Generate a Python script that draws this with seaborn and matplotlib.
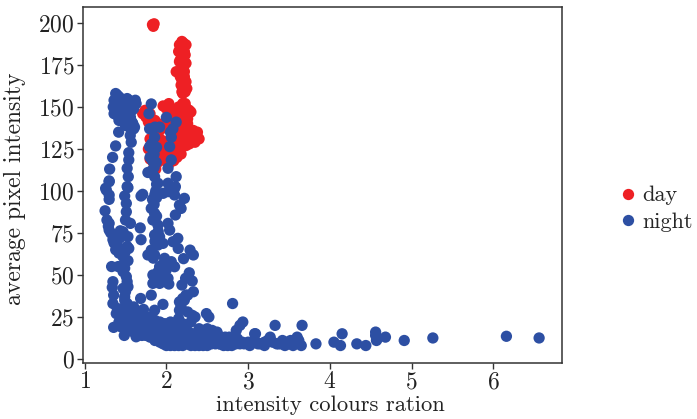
import matplotlib
matplotlib.use("Agg")
import matplotlib.pyplot as plt
import seaborn as sns
import pandas as pd

day_top = [(1.83,199),(1.85,199.5),(1.84,198)]
day_column = [(2.19,189),(2.21,188),(2.2,186),(2.18,184),(2.22,183),(2.19,180),(2.17,178),(2.2,176),
              (2.16,177),(2.12,171),(2.15,171),(2.22,171),(2.17,168),(2.19,166),(2.18,163),(2.2,161),
              (2.19,159),(2.21,160),(2.2,164),(2.22,168),(2.21,172),(2.2,158),(2.16,187),(2.24,187),(2.15,183),
              (2.23,181),(2.24,165),(2.16,171),(2.25,161),(2.23,159),(2.18,169),(2.24,176)]
day_body = [(1.96,150.6),(2.0,149),(2.05,148),(2.1,147),(2.15,150),(2.2,152),(2.25,149),(2.22,146),(2.28,148),
            (2.26,143),(2.18,144),(2.12,143),(2.05,145),(2.0,142),(1.97,140),(2.02,138),(2.08,139),(2.14,140),
            (2.2,141),(2.26,140),(2.3,136),(2.24,136),(2.18,136),(2.32,133),(2.36,134),(2.38,132),(2.34,131),
            (2.32,130),(2.28,133),(2.24,131),(2.2,134),(2.15,132),(2.1,128),(2.2,128),(2.26,129),(2.3,131),
            (2.35,129),(2.16,125),(2.12,123),(2.07,126),(2.24,127),(2.28,128),(2.27,137),(2.25,133),(2.18,122),
            (2.13,120),(2.09,118),(2.23,152),(2.17,148),(2.03,152),(2.3,147),(2.38,135),(2.4,131),(2.33,136)]
day_left = [(1.71,146),(1.75,144),(1.78,141),(1.82,139),(1.86,136),(1.9,133),(1.8,131),(1.85,128),(1.9,126),
            (1.95,130),(1.78,125),(1.82,122),(1.86,120),(1.9,124),(1.94,127),(1.8,119),(1.84,117),(1.88,116),
            (1.93,122),(1.98,124),(1.83,120),(1.87,113),(1.92,118),(1.96,120),(2.02,122),(2.08,128),(1.74,148),
            (1.8,146),(1.86,142),(1.9,140),(1.94,137),(1.99,118),(2.03,116)]

night_cluster = [(1.38,158),(1.4,157),(1.42,156),(1.44,155),(1.46,153),(1.36,154),(1.38,153),(1.4,152),(1.42,152),
                 (1.44,151),(1.46,151),(1.48,150),(1.5,153),(1.52,155),(1.54,154),(1.35,150),(1.37,149),(1.39,149),
                 (1.41,148),(1.43,148),(1.45,148),(1.47,147),(1.49,147),(1.51,147),(1.53,147),(1.55,147),(1.57,152),
                 (1.36,146),(1.38,146),(1.4,145),(1.42,145),(1.44,145),(1.46,144),(1.48,144),(1.5,144),(1.52,144),
                 (1.54,144),(1.56,144),(1.58,148),(1.62,154),(1.63,152),(1.6,149),(1.42,142),(1.45,142),(1.48,142),
                 (1.5,141),(1.52,141),(1.55,141),(1.58,141),(1.5,139),(1.53,139),(1.56,139),(1.59,140),(1.57,136),
                 (1.6,137),(1.61,138)]
night_left = [(1.416,135),(1.379,126.8),(1.342,120),(1.306,113),(1.3,106),(1.257,101.6),(1.3,105.5),(1.265,100.5),
              (1.3,97.6),(1.3,95),(1.25,88.2),(1.273,82.7),(1.3,80.7),(1.3,76.7),(1.346,71),(1.408,66.8),(1.33,55),
              (1.41,55),(1.346,46),(1.338,42.6),(1.355,38),(1.346,33),(1.387,27),(1.355,18.8),(1.485,14),(1.63,13.2),
              (1.29,79),(1.32,75),(1.36,69),(1.38,65),(1.42,63),(1.45,55),(1.47,52)]
night_second = [(1.558,133),(1.57,129),(1.54,122.8),(1.54,118.5),(1.52,113.5),(1.534,108.5),(1.52,102.6),(1.53,102),
                (1.49,97),(1.69,97),(1.71,98),(1.51,92.6),(1.51,87.6),(1.5,82.7),(1.56,80.7),(1.436,76.3),(1.47,75.7),
                (1.53,72.8),(1.43,72),(1.54,65.8),(1.47,60.9),(1.53,58.5),(1.49,54),(1.51,49),(1.53,43),(1.47,42),
                (1.49,37),(1.68,78),(1.69,71),(1.52,67),(1.49,63),(1.52,46),(1.5,40),(1.49,35),(1.52,33),(1.53,30),
                (1.46,30),(1.47,27),(1.49,25),(1.51,24),(1.53,26),(1.48,22),(1.5,20),(1.54,24),(1.44,24)]
night_third = [(1.815,151.8),(1.787,146),(1.795,137),(1.795,126.4),(1.856,132),(1.917,138),(2.0,143.8),(1.86,138),
               (1.88,126),(1.82,128),(1.85,122),(1.8,120),(1.83,118),(1.876,117),(1.774,111),(1.856,108.5),(1.82,112),
               (1.85,114),(1.897,104.6),(1.88,104),(1.87,100),(1.88,96),(1.86,98),(1.815,89.6),(1.856,86.7),(1.85,92),
               (1.83,95),(1.835,82.7),(1.897,79.7),(1.856,73.8),(1.917,72.8),(1.958,68.8),(1.897,67.8),(1.815,64.8),
               (1.774,61.9),(1.856,61.9),(1.978,59.9),(1.917,54.9),(2.06,57.9),(2.1,54.9),(1.998,53),(1.835,50),
               (1.958,49),(2.02,48),(1.835,45),(1.917,45),(2.03,44.6),(1.815,38),(1.685,36),(1.958,32.5),(1.856,29),
               (1.72,29.5),(1.88,48),(1.9,52),(1.95,56),(1.98,46),(1.88,85),(1.9,76),(1.86,70),(1.84,60)]
night_fourth = [(2.12,141),(2.06,132),(2.04,126.4),(2.06,118.5),(2.02,113.5),(2.12,108.5),(2.11,102.6),(2.02,104.6),
                (2.1,101.5),(2.1,97.6),(2.02,99.6),(1.96,98.6),(2.22,95.6),(2.16,91.6),(2.18,89.6),(2.11,85.7),
                (2.02,80.7),(2.04,76.7),(2.14,71.8),(2.08,69.8),(2.145,65.8),(2.29,64.8),(2.33,61.9),(2.21,59.7),
                (2.28,51.3),(2.235,48),(2.316,46.4),(2.19,44),(2.33,40),(2.26,38),(2.2,36),(2.16,34),(2.16,29),
                (2.316,26),(2.49,27),(2.52,25),(2.81,33),(2.935,22),(2.9,20),(2.855,17),(3.09,15),(2.05,135),(2.08,137),
                (2.24,38),(2.22,35),(2.18,31)]
night_band = [(1.45,19),(1.5,18),(1.55,17),(1.6,16),(1.65,15),(1.7,14),(1.75,14),(1.8,13),(1.85,13),(1.9,13),(1.95,12),
              (2.0,12),(2.05,11),(2.1,11),(2.15,11),(2.2,10),(2.25,10),(2.3,10),(2.35,10),(2.4,10),(2.45,10),(2.5,10),
              (2.55,10),(2.6,10),(2.65,9),(2.7,9),(2.75,9),(2.8,9),(2.85,9),(2.9,9),(2.95,9),(1.42,22),(1.46,24),
              (1.52,20),(1.58,22),(1.62,18),(1.68,19),(1.72,17),(1.78,17),(1.83,15),(1.88,16),(1.93,14),(1.98,15),
              (2.03,14),(2.08,13),(2.13,15),(2.18,14),(2.23,13),(2.28,12),(2.33,12),(2.38,12),(2.43,11),(2.48,12),
              (2.53,11),(2.58,11),(2.63,11),(2.68,11),(2.73,11),(2.78,10),(2.83,10),(2.88,10),(2.93,10),(1.4,30),
              (1.44,28),(1.48,26),(1.54,25),(1.6,27),(1.66,23),(1.7,21),(1.76,22),(1.82,20),(1.87,20),(1.92,18),
              (1.97,18),(2.02,17),(2.07,17),(2.12,17),(2.17,17),(2.22,16),(2.27,16),(2.32,15),(2.37,15),(2.42,14),
              (2.47,14),(2.52,15),(2.57,14),(2.62,13),(2.67,13),(2.72,13),(2.77,13),(2.82,12),(2.87,12),(2.0,8),
              (2.05,8),(2.1,8),(2.15,8),(2.2,8),(2.25,9),(2.3,8),(2.35,8),(2.4,8),(2.45,8),(2.5,8),(2.55,9),(2.6,9),
              (2.65,9),(2.7,8),(2.75,8),(2.8,8),(1.86,11),(1.92,10),(1.96,9),(1.6,31),(1.56,28),(1.65,26),(1.72,24),
              (1.78,25),(1.86,23),(1.92,22),(1.98,21),(2.05,22),(2.1,20),(2.15,24),(2.2,21),(2.26,28),(2.3,22),
              (2.35,25),(2.24,19),(2.4,18),(2.46,17),(2.5,18),(2.56,17),(2.62,16)]
night_tail = [(3.0,10),(3.05,10),(3.1,10),(3.15,9),(3.2,10),(3.25,11),(3.3,10),(3.35,9),(3.4,9),(3.45,8),(3.5,9),
              (3.55,9),(3.6,10),(3.65,8),(3.27,13),(3.24,11),(3.42,11),(3.47,10),(3.52,11),(3.6,13),(3.62,11),
              (3.02,8),(3.12,9),(3.2,8),(3.37,9),(3.55,8),(3.33,20),(3.66,20),(3.08,15),(3.83,9),(4.05,10),(4.13,8),
              (4.15,15),(4.33,9),(4.44,8),(4.56,14),(4.56,16),(4.57,11),(4.58,12),(4.68,13),(4.91,11),(5.26,12.5),
              (6.16,13.5),(6.56,12.5)]

day_points = day_top + day_column + day_body + day_left
night_points = night_cluster + night_left + night_second + night_third + night_fourth + night_band + night_tail

df = pd.DataFrame(day_points + night_points, columns=["x", "y"])
df["kind"] = ["day"] * len(day_points) + ["night"] * len(night_points)

sns.set_style("white")
plt.rcParams["font.family"] = ["cmr10", "DejaVu Sans"]
plt.rcParams["axes.formatter.use_mathtext"] = True
plt.rcParams["axes.unicode_minus"] = False

fig = plt.figure(figsize=(6.97, 4.19), dpi=100)
ax = fig.add_axes([83 / 697, 1 - 363 / 419, (562 - 83) / 697, (363 - 7) / 419])
sns.scatterplot(data=df, x="x", y="y", hue="kind",
                palette={"day": "#ee2024", "night": "#2d4fa3"},
                s=66, linewidth=0, alpha=1, ax=ax)
ax.set_xlim(0.98, 6.84)
ax.set_ylim(-2.4, 209.5)
ax.set_xticks([1, 2, 3, 4, 5, 6])
ax.set_yticks([0, 25, 50, 75, 100, 125, 150, 175, 200])
ax.tick_params(axis="both", labelsize=17, length=4, width=1, color="#333333",
               labelcolor="#222222", bottom=True, left=True, pad=2)
ax.set_xlabel("intensity colours ration", fontsize=16.3, color="#222222", labelpad=0)
ax.xaxis.set_label_coords(0.516, -0.09)
ax.set_ylabel("average pixel intensity", fontsize=17, color="#222222", labelpad=0)
ax.yaxis.set_label_coords(-0.118, 0.49)
for s in ax.spines.values():
    s.set_color("#333333")
    s.set_linewidth(1.1)
ax.legend(frameon=False, loc="center left", bbox_to_anchor=(1.092, 0.433),
          fontsize=16, handletextpad=-0.35, labelspacing=0.32, borderaxespad=0, borderpad=0)
fig.savefig("out.png", dpi=100)
